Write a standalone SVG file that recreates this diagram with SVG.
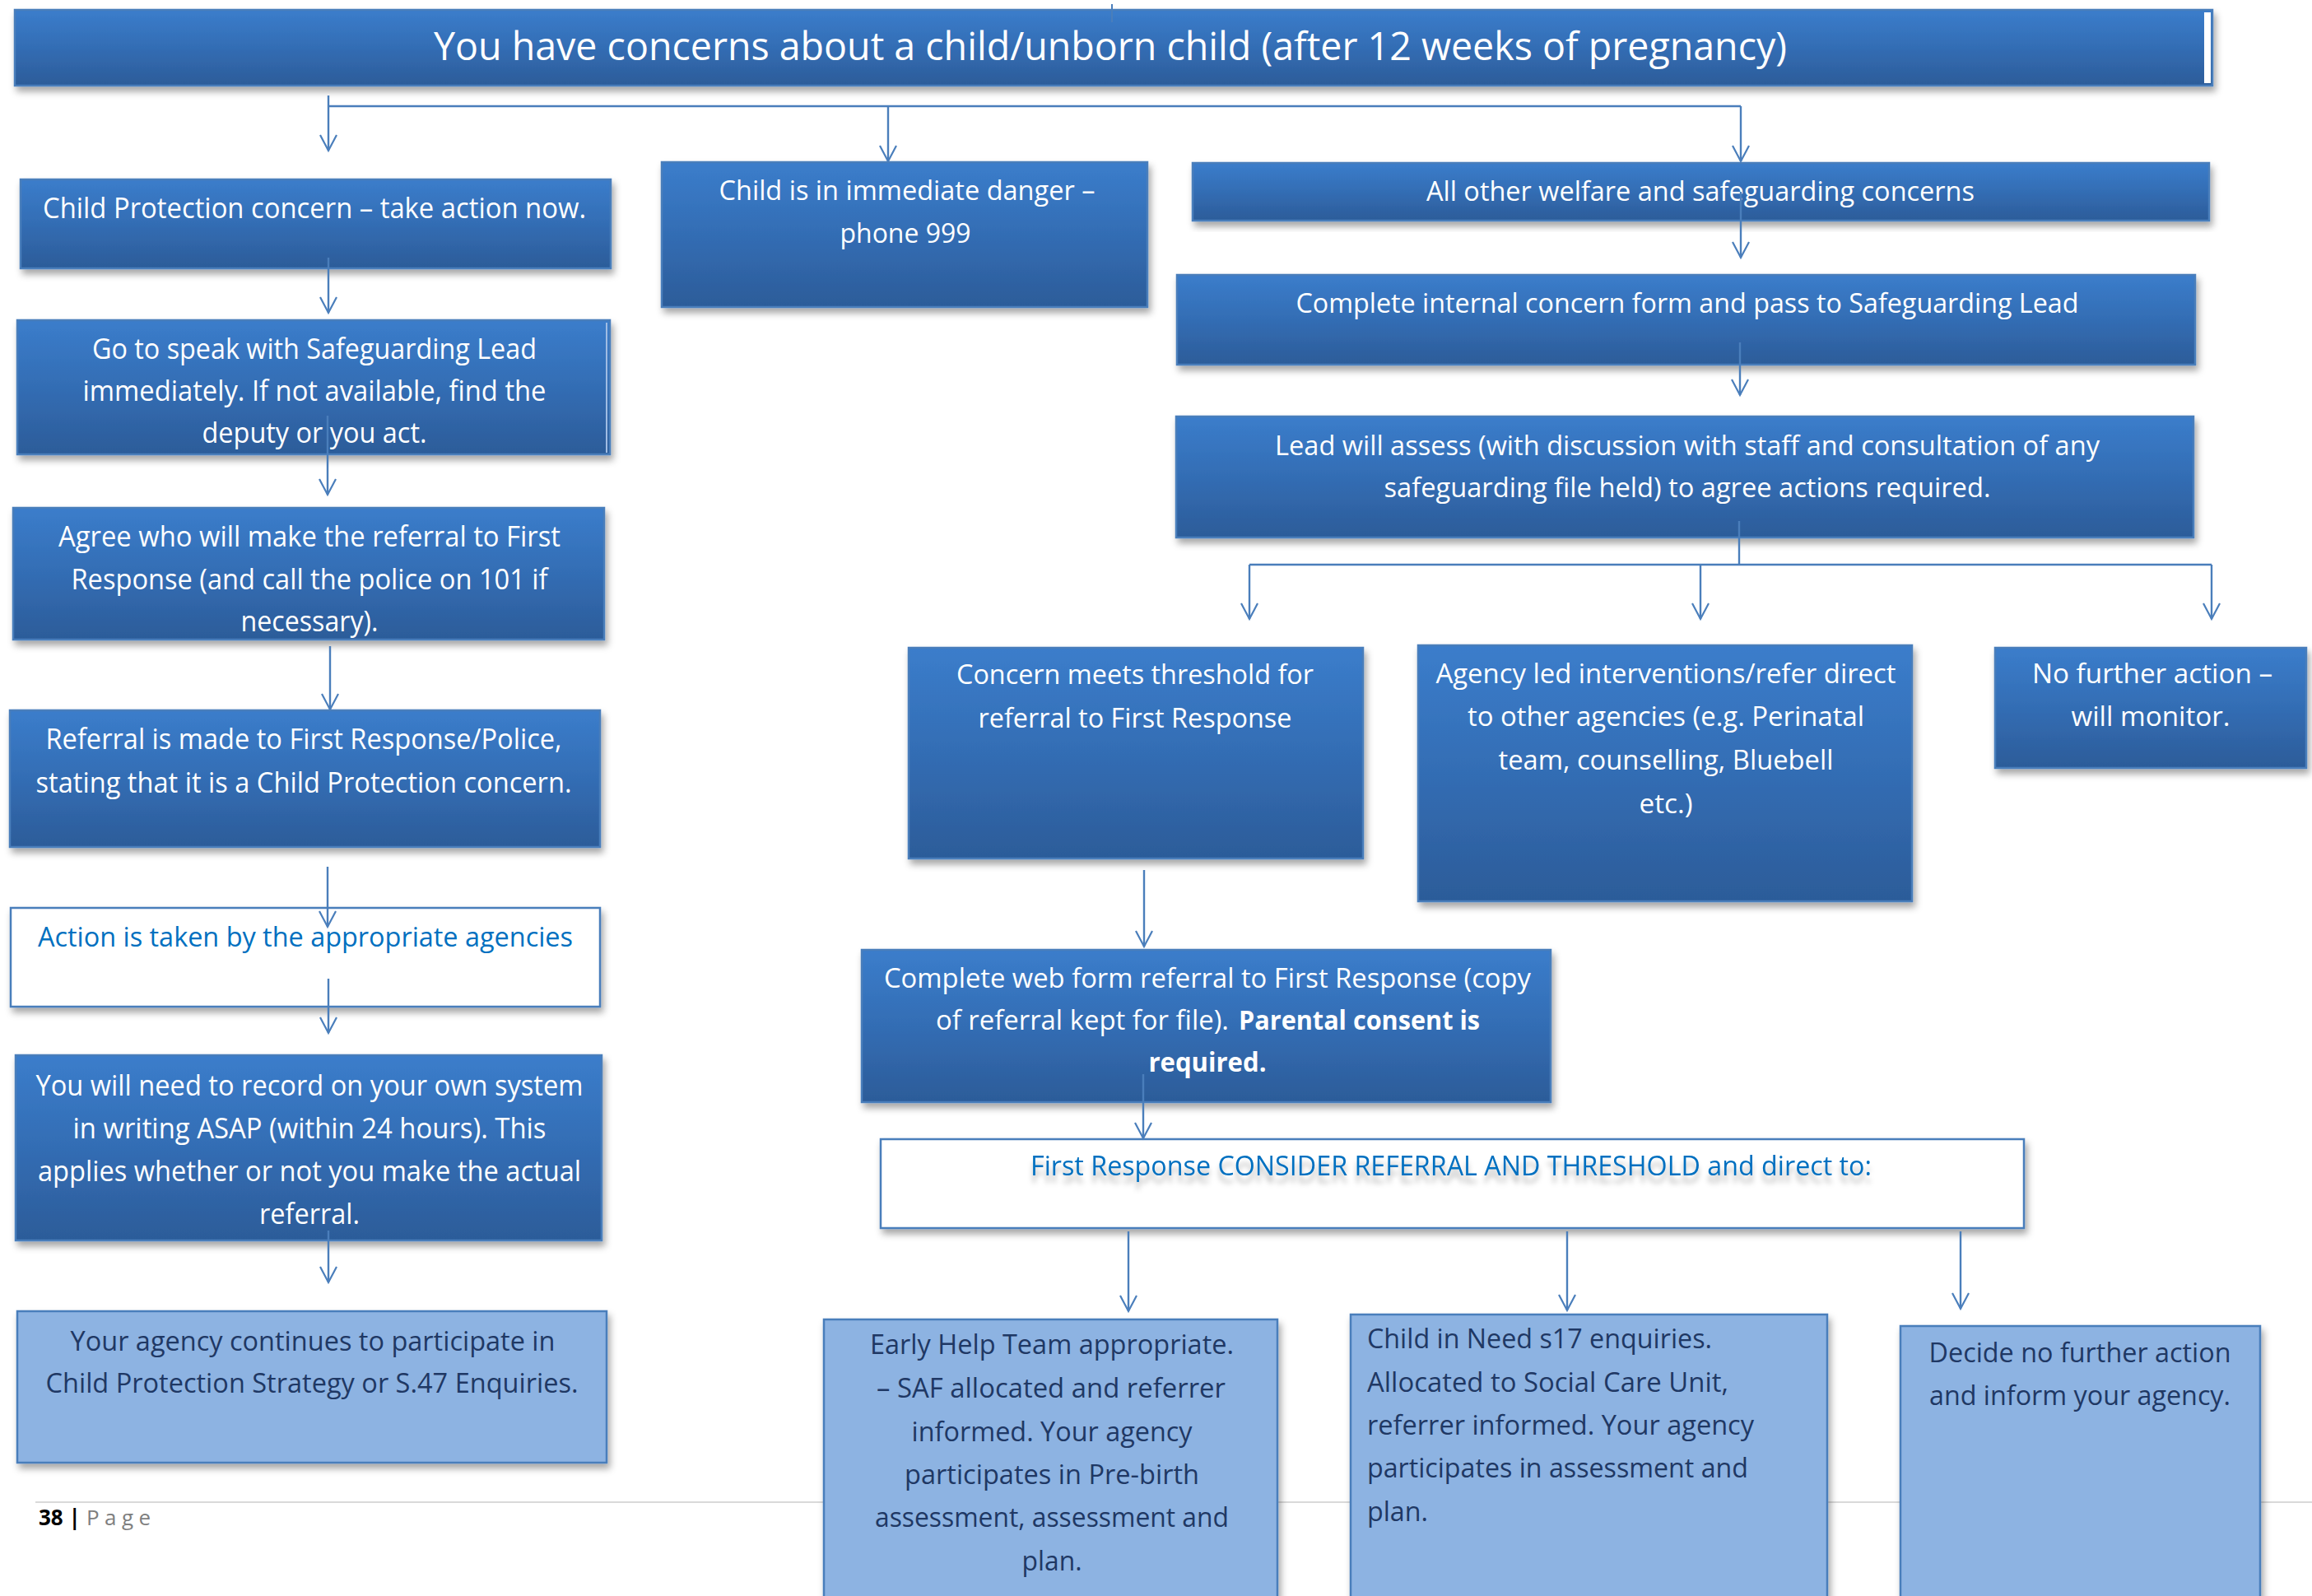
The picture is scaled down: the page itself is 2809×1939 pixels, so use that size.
<svg xmlns="http://www.w3.org/2000/svg" width="2809" height="1939" viewBox="0 0 2809 1939">
<defs>
<linearGradient id="gBlue" x1="0" y1="0" x2="0" y2="1">
<stop offset="0" stop-color="#3B7DCB"/>
<stop offset="0.5" stop-color="#336DB4"/>
<stop offset="1" stop-color="#2C5C99"/>
</linearGradient>
<filter id="sh" x="-5%" y="-10%" width="112%" height="130%">
<feDropShadow dx="3" dy="6" stdDeviation="4" flood-color="#000" flood-opacity="0.35"/>
</filter>
<filter id="tsh" x="-5%" y="-50%" width="110%" height="220%">
<feDropShadow dx="0" dy="9" stdDeviation="3" flood-color="#000" flood-opacity="0.28"/>
</filter>
<marker id="ar" viewBox="-22 -12 24 24" refX="0" refY="0" markerWidth="24" markerHeight="24" markerUnits="userSpaceOnUse" orient="auto" overflow="visible">
<path d="M-19,-10 L0,0 L-19,10" fill="none" stroke="#4A7EBB" stroke-width="2.2"/>
</marker>
</defs>
<style>
text{font-family:"Open Sans","Liberation Sans",sans-serif;}
.dark{fill:url(#gBlue);stroke:#4A7EBB;stroke-width:2.5;filter:url(#sh);}
.light{fill:#8DB3E2;stroke:#4A7EBB;stroke-width:2.5;filter:url(#sh);}
.wbox{fill:#FFFFFF;stroke:#4A7EBB;stroke-width:2.5;filter:url(#sh);}
.tw{fill:#FFFFFF;font-size:33px;text-anchor:middle;}
.tl{fill:#FFFFFF;font-size:34px;text-anchor:middle;}
.tn{fill:#1F3864;font-size:33px;text-anchor:middle;}
.tnl{fill:#1F3864;font-size:33px;}
.tb{fill:#0070C0;font-size:33px;text-anchor:middle;}
.cn{fill:none;stroke:#4A7EBB;stroke-width:2.4;}
.ca{fill:none;stroke:#4A7EBB;stroke-width:2.4;marker-end:url(#ar);}
</style>
<rect width="2809" height="1939" fill="#FFFFFF"/>
<line x1="43" y1="1825" x2="2809" y2="1825" stroke="#D9D9D9" stroke-width="2"/>
<g id="footer">
<text x="47" y="1853" font-size="26" font-weight="bold" fill="#000">38 |</text>
<text x="105" y="1853" font-size="26" fill="#7F7F7F" textLength="78" lengthAdjust="spacing">Page</text>
</g>

<g id="title">
<rect class="dark" x="18" y="12" width="2670" height="92"/>
<rect x="2678" y="15" width="8" height="86" fill="#FFFFFF"/>
<text x="1349" y="73" fill="#FFFFFF" font-size="48" text-anchor="middle" textLength="1644" lengthAdjust="spacingAndGlyphs">You have concerns about a child/unborn child (after 12 weeks of pregnancy)</text>
</g>

<g id="cp-concern">
<rect class="dark" x="25" y="218" width="717" height="108"/>
<text class="tl" x="382" y="265" textLength="660" lengthAdjust="spacingAndGlyphs">Child Protection concern – take action now.</text>
</g>

<g id="speak-lead">
<rect class="dark" x="21" y="389" width="720" height="163"/>
<line x1="737" y1="392" x2="737" y2="550" stroke="#9FBCE3" stroke-width="2"/>
<text class="tl" x="382" y="436" textLength="540" lengthAdjust="spacingAndGlyphs">Go to speak with Safeguarding Lead</text>
<text class="tl" x="382" y="487" textLength="563" lengthAdjust="spacingAndGlyphs">immediately. If not available, find the</text>
<text class="tl" x="382" y="538" textLength="273" lengthAdjust="spacingAndGlyphs">deputy or you act.</text>
</g>

<g id="agree-referral">
<rect class="dark" x="16" y="617" width="718" height="160"/>
<text class="tl" x="376" y="664" textLength="610" lengthAdjust="spacingAndGlyphs">Agree who will make the referral to First</text>
<text class="tl" x="376" y="716" textLength="579" lengthAdjust="spacingAndGlyphs">Response (and call the police on 101 if</text>
<text class="tl" x="376" y="767" textLength="167" lengthAdjust="spacingAndGlyphs">necessary).</text>
</g>

<g id="referral-made">
<rect class="dark" x="12" y="863" width="717" height="166"/>
<text class="tl" x="369" y="910" textLength="627" lengthAdjust="spacingAndGlyphs">Referral is made to First Response/Police,</text>
<text class="tl" x="369" y="963" textLength="651" lengthAdjust="spacingAndGlyphs">stating that it is a Child Protection concern.</text>
</g>

<g id="action-taken">
<rect class="wbox" x="13" y="1103" width="716" height="120"/>
<text class="tb" x="371" y="1150" font-size="35" textLength="650" lengthAdjust="spacingAndGlyphs">Action is taken by the appropriate agencies</text>
</g>

<g id="record">
<rect class="dark" x="19" y="1282" width="712" height="225"/>
<text class="tl" x="376" y="1331" textLength="665" lengthAdjust="spacingAndGlyphs">You will need to record on your own system</text>
<text class="tl" x="376" y="1383" textLength="575" lengthAdjust="spacingAndGlyphs">in writing ASAP (within 24 hours). This</text>
<text class="tl" x="376" y="1435" textLength="660" lengthAdjust="spacingAndGlyphs">applies whether or not you make the actual</text>
<text class="tl" x="376" y="1487" textLength="122" lengthAdjust="spacingAndGlyphs">referral.</text>
</g>

<g id="agency-continues">
<rect class="light" x="21" y="1593" width="716" height="184"/>
<text class="tn" x="380" y="1641" font-size="34" textLength="589" lengthAdjust="spacingAndGlyphs">Your agency continues to participate in</text>
<text class="tn" x="379" y="1692" font-size="34" textLength="647" lengthAdjust="spacingAndGlyphs">Child Protection Strategy or S.47 Enquiries.</text>
</g>

<g id="immediate-danger">
<rect class="dark" x="804" y="197" width="590" height="176"/>
<text class="tw" x="1102" y="243" textLength="457" lengthAdjust="spacingAndGlyphs">Child is in immediate danger –</text>
<text class="tw" x="1100" y="295" textLength="159" lengthAdjust="spacingAndGlyphs">phone 999</text>
</g>

<g id="other-concerns">
<rect class="dark" x="1449" y="198" width="1235" height="70"/>
<text class="tw" x="2066" y="244" textLength="666" lengthAdjust="spacingAndGlyphs">All other welfare and safeguarding concerns</text>
</g>

<g id="internal-form">
<rect class="dark" x="1430" y="334" width="1237" height="109"/>
<text class="tw" x="2050" y="380" textLength="951" lengthAdjust="spacingAndGlyphs">Complete internal concern form and pass to Safeguarding Lead</text>
</g>

<g id="lead-assess">
<rect class="dark" x="1429" y="506" width="1236" height="147"/>
<text class="tw" x="2050" y="553" textLength="1002" lengthAdjust="spacingAndGlyphs">Lead will assess (with discussion with staff and consultation of any</text>
<text class="tw" x="2050" y="604" textLength="737" lengthAdjust="spacingAndGlyphs">safeguarding file held) to agree actions required.</text>
</g>

<g id="meets-threshold">
<rect class="dark" x="1104" y="787" width="552" height="256"/>
<text class="tw" x="1379" y="831" textLength="434" lengthAdjust="spacingAndGlyphs">Concern meets threshold for</text>
<text class="tw" x="1379" y="884" textLength="381" lengthAdjust="spacingAndGlyphs">referral to First Response</text>
</g>

<g id="agency-led">
<rect class="dark" x="1723" y="784" width="600" height="311"/>
<text class="tw" x="2024" y="830" textLength="559" lengthAdjust="spacingAndGlyphs">Agency led interventions/refer direct</text>
<text class="tw" x="2024" y="882" textLength="482" lengthAdjust="spacingAndGlyphs">to other agencies (e.g. Perinatal</text>
<text class="tw" x="2024" y="935" textLength="407" lengthAdjust="spacingAndGlyphs">team, counselling, Bluebell</text>
<text class="tw" x="2024" y="988" textLength="65" lengthAdjust="spacingAndGlyphs">etc.)</text>
</g>

<g id="no-further-monitor">
<rect class="dark" x="2424" y="787" width="378" height="146"/>
<text class="tw" x="2615" y="830" textLength="292" lengthAdjust="spacingAndGlyphs">No further action –</text>
<text class="tw" x="2613" y="882" textLength="193" lengthAdjust="spacingAndGlyphs">will monitor.</text>
</g>

<g id="web-form">
<rect class="dark" x="1047" y="1154" width="837" height="185"/>
<text class="tw" x="1467" y="1200" textLength="786" lengthAdjust="spacingAndGlyphs">Complete web form referral to First Response (copy</text>
<text x="1137" y="1251" fill="#FFFFFF" font-size="33" textLength="356" lengthAdjust="spacingAndGlyphs">of referral kept for file).</text>
<text x="1505" y="1251" fill="#FFFFFF" font-size="33" font-weight="bold" textLength="293" lengthAdjust="spacingAndGlyphs">Parental consent is</text>
<text class="tw" x="1467" y="1302" font-weight="bold" textLength="143" lengthAdjust="spacingAndGlyphs">required.</text>
</g>

<g id="first-response">
<rect class="wbox" x="1070" y="1384" width="1389" height="108"/>
<text class="tb" x="1763" y="1428" font-size="32" filter="url(#tsh)" textLength="1022" lengthAdjust="spacingAndGlyphs">First Response CONSIDER REFERRAL AND THRESHOLD and direct to:</text>
</g>

<g id="early-help">
<rect class="light" x="1001" y="1603" width="551" height="360"/>
<text class="tn" x="1278" y="1645" textLength="442" lengthAdjust="spacingAndGlyphs">Early Help Team appropriate.</text>
<text class="tn" x="1277" y="1698" textLength="424" lengthAdjust="spacingAndGlyphs">– SAF allocated and referrer</text>
<text class="tn" x="1278" y="1751" textLength="341" lengthAdjust="spacingAndGlyphs">informed. Your agency</text>
<text class="tn" x="1278" y="1803" textLength="358" lengthAdjust="spacingAndGlyphs">participates in Pre-birth</text>
<text class="tn" x="1278" y="1855" textLength="430" lengthAdjust="spacingAndGlyphs">assessment, assessment and</text>
<text class="tn" x="1278" y="1908" textLength="73" lengthAdjust="spacingAndGlyphs">plan.</text>
</g>

<g id="child-in-need">
<rect class="light" x="1641" y="1597" width="579" height="366"/>
<text class="tnl" x="1661" y="1638" textLength="419" lengthAdjust="spacingAndGlyphs">Child in Need s17 enquiries.</text>
<text class="tnl" x="1661" y="1691" textLength="439" lengthAdjust="spacingAndGlyphs">Allocated to Social Care Unit,</text>
<text class="tnl" x="1661" y="1743" textLength="470" lengthAdjust="spacingAndGlyphs">referrer informed. Your agency</text>
<text class="tnl" x="1661" y="1795" textLength="463" lengthAdjust="spacingAndGlyphs">participates in assessment and</text>
<text class="tnl" x="1661" y="1848" textLength="74" lengthAdjust="spacingAndGlyphs">plan.</text>
</g>

<g id="decide-no-action">
<rect class="light" x="2309" y="1611" width="437" height="352"/>
<text class="tn" x="2527" y="1655" textLength="367" lengthAdjust="spacingAndGlyphs">Decide no further action</text>
<text class="tn" x="2527" y="1707" textLength="366" lengthAdjust="spacingAndGlyphs">and inform your agency.</text>
</g>

<g id="connectors">
<line x1="1351" y1="5" x2="1351" y2="27" stroke="#4A7EBB" stroke-width="2"/>
<path class="cn" d="M399,129 H2115" stroke-width="3"/>
<path class="ca" d="M399,116 V183"/>
<path class="ca" d="M1079,129 V196"/>
<path class="ca" d="M2115,129 V196"/>
<path class="ca" d="M399,313 V380"/>
<path class="ca" d="M398,505 V601"/>
<path class="ca" d="M401,785 V862"/>
<path class="ca" d="M398,1053 V1126"/>
<path class="ca" d="M399,1189 V1255"/>
<path class="ca" d="M399,1495 V1558"/>
<path class="ca" d="M2115,233 V313"/>
<path class="ca" d="M2114,416 V480"/>
<path class="cn" d="M2113,633 V686"/>
<path class="cn" d="M1518,686 H2687" stroke-width="3"/>
<path class="ca" d="M1518,686 V752"/>
<path class="ca" d="M2066,686 V752"/>
<path class="ca" d="M2687,686 V752"/>
<path class="ca" d="M1390,1057 V1150"/>
<path class="ca" d="M1389,1305 V1383"/>
<path class="ca" d="M1371,1496 V1593"/>
<path class="ca" d="M1904,1496 V1592"/>
<path class="ca" d="M2382,1496 V1590"/>
</g>
</svg>
